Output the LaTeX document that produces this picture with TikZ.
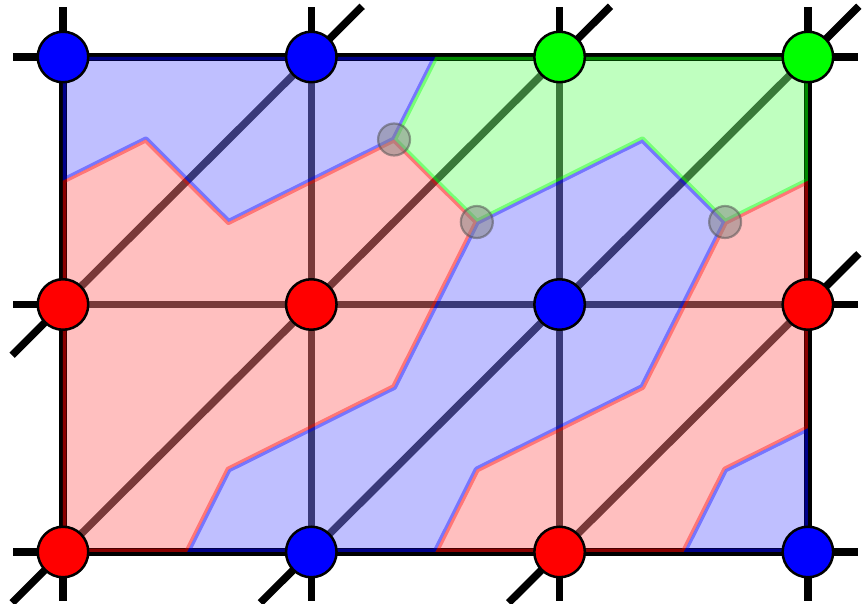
\documentclass[tikz,border=0pt]{standalone}
\usetikzlibrary{calc}
\newcommand\myregion[2]{%
  \fill[#1,opacity=0.25] #2;
  \begin{scope}
    \clip #2;
    \draw[#1,opacity=0.38,line width=6pt,line join=round] #2;
  \end{scope}}
\begin{document}
\begin{tikzpicture}[x=248.3pt,y=247.5pt,
  edgeint/.style={line width=7.5pt,black,opacity=0.7},
  edgeout/.style={line width=7.5pt,black},
  vtx/.style={circle,draw=black,line width=2.5pt,minimum size=50.5pt,inner sep=0pt},
  junc/.style={circle,fill=gray,fill opacity=0.5,draw=black!70,draw opacity=0.5,line width=2.2pt,minimum size=32pt,inner sep=0pt}]
\useasboundingbox (-0.2537,-0.2101) rectangle (3.2300,2.2303);

% grid coordinates
\foreach \i in {0,1,2,3}{\foreach \j in {0,1,2}{\coordinate (p-\i-\j) at (\i,\j);}}

% stub end points
\coordinate (s02u) at ($(p-0-2)+(0,0.2)$);
\coordinate (s02l) at ($(p-0-2)+(-0.2,0)$);
\coordinate (s12u) at ($(p-1-2)+(0,0.2)$);
\coordinate (s12d) at ($(p-1-2)+(0.205,0.205)$);
\coordinate (s22u) at ($(p-2-2)+(0,0.2)$);
\coordinate (s22d) at ($(p-2-2)+(0.205,0.205)$);
\coordinate (s32u) at ($(p-3-2)+(0,0.2)$);
\coordinate (s32d) at ($(p-3-2)+(0.205,0.205)$);
\coordinate (s32r) at ($(p-3-2)+(0.2,0)$);
\coordinate (s01l) at ($(p-0-1)+(-0.2,0)$);
\coordinate (s01d) at ($(p-0-1)+(-0.205,-0.205)$);
\coordinate (s31d) at ($(p-3-1)+(0.205,0.205)$);
\coordinate (s31r) at ($(p-3-1)+(0.2,0)$);
\coordinate (s00l) at ($(p-0-0)+(-0.2,0)$);
\coordinate (s00d) at ($(p-0-0)+(-0.205,-0.205)$);
\coordinate (s00v) at ($(p-0-0)+(0,-0.2)$);
\coordinate (s10d) at ($(p-1-0)+(-0.205,-0.205)$);
\coordinate (s10v) at ($(p-1-0)+(0,-0.2)$);
\coordinate (s20d) at ($(p-2-0)+(-0.205,-0.205)$);
\coordinate (s20v) at ($(p-2-0)+(0,-0.2)$);
\coordinate (s30r) at ($(p-3-0)+(0.2,0)$);
\coordinate (s30v) at ($(p-3-0)+(0,-0.2)$);

% stubs
\draw[edgeout] (p-0-2) -- (s02u); \draw[edgeout] (p-0-2) -- (s02l);
\draw[edgeout] (p-1-2) -- (s12u); \draw[edgeout] (p-1-2) -- (s12d);
\draw[edgeout] (p-2-2) -- (s22u); \draw[edgeout] (p-2-2) -- (s22d);
\draw[edgeout] (p-3-2) -- (s32u); \draw[edgeout] (p-3-2) -- (s32d); \draw[edgeout] (p-3-2) -- (s32r);
\draw[edgeout] (p-0-1) -- (s01l); \draw[edgeout] (p-0-1) -- (s01d);
\draw[edgeout] (p-3-1) -- (s31d); \draw[edgeout] (p-3-1) -- (s31r);
\draw[edgeout] (p-0-0) -- (s00l); \draw[edgeout] (p-0-0) -- (s00d); \draw[edgeout] (p-0-0) -- (s00v);
\draw[edgeout] (p-1-0) -- (s10d); \draw[edgeout] (p-1-0) -- (s10v);
\draw[edgeout] (p-2-0) -- (s20d); \draw[edgeout] (p-2-0) -- (s20v);
\draw[edgeout] (p-3-0) -- (s30r); \draw[edgeout] (p-3-0) -- (s30v);

% frame
\draw[edgeout] (p-0-0) -- (p-3-0) -- (p-3-2) -- (p-0-2) -- cycle;

% interior edges
\draw[edgeint] (p-0-1) -- (p-3-1);
\draw[edgeint] (p-1-0) -- (p-1-2);
\draw[edgeint] (p-2-0) -- (p-2-2);
\draw[edgeint] (p-0-1) -- (p-1-2);
\draw[edgeint] (p-0-0) -- (p-2-2);
\draw[edgeint] (p-1-0) -- (p-3-2);
\draw[edgeint] (p-2-0) -- (p-3-1);

% regions
\myregion{blue}{(0,2) -- (1.5,2) -- (4/3,5/3) -- (2/3,4/3) -- (1/3,5/3) -- (0,1.5) -- cycle}
\myregion{green}{(1.5,2) -- (3,2) -- (3,1.5) -- (8/3,4/3) -- (7/3,5/3) -- (5/3,4/3) -- (4/3,5/3) -- cycle}
\myregion{red}{(0,1.5) -- (1/3,5/3) -- (2/3,4/3) -- (4/3,5/3) -- (5/3,4/3) -- (4/3,2/3) -- (2/3,1/3) -- (0.5,0) -- (0,0) -- cycle}
\myregion{blue}{(0.5,0) -- (1.5,0) -- (5/3,1/3) -- (7/3,2/3) -- (8/3,4/3) -- (7/3,5/3) -- (5/3,4/3) -- (4/3,2/3) -- (2/3,1/3) -- cycle}
\myregion{red}{(1.5,0) -- (2.5,0) -- (8/3,1/3) -- (3,0.5) -- (3,1.5) -- (8/3,4/3) -- (7/3,2/3) -- (5/3,1/3) -- cycle}
\myregion{blue}{(2.5,0) -- (3,0) -- (3,0.5) -- (8/3,1/3) -- cycle}

% junctions
\node[junc] (j1) at (4/3,5/3) {};
\node[junc] (j2) at (5/3,4/3) {};
\node[junc] (j3) at (8/3,4/3) {};

% vertices
\node[vtx,fill=blue]  (v-0-2) at (p-0-2) {};
\node[vtx,fill=blue]  (v-1-2) at (p-1-2) {};
\node[vtx,fill=green] (v-2-2) at (p-2-2) {};
\node[vtx,fill=green] (v-3-2) at (p-3-2) {};
\node[vtx,fill=red]   (v-0-1) at (p-0-1) {};
\node[vtx,fill=red]   (v-1-1) at (p-1-1) {};
\node[vtx,fill=blue]  (v-2-1) at (p-2-1) {};
\node[vtx,fill=red]   (v-3-1) at (p-3-1) {};
\node[vtx,fill=red]   (v-0-0) at (p-0-0) {};
\node[vtx,fill=blue]  (v-1-0) at (p-1-0) {};
\node[vtx,fill=red]   (v-2-0) at (p-2-0) {};
\node[vtx,fill=blue]  (v-3-0) at (p-3-0) {};
\end{tikzpicture}
\end{document}
